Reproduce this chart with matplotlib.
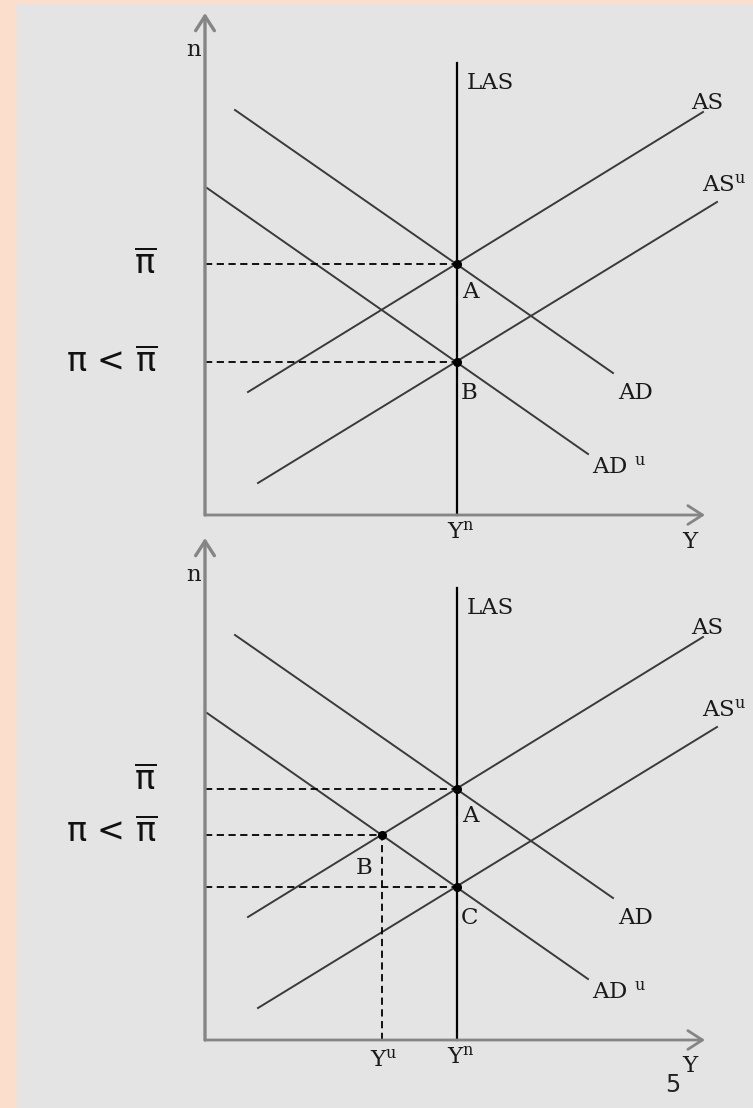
"""AS-AD diagram: lower inflation expectations, two panels."""

import numpy as np
import matplotlib.pyplot as plt
from matplotlib.patches import Rectangle

plt.rcParams['mathtext.fontset'] = 'dejavusans'

# =============================================================================
# Data (Y and pi in arbitrary units, axes start at 0)
Y_n = 50.4          # natural output
pi_bar = 50.3       # expected inflation
pi_low = 30.6       # lower inflation

curve_names = ["AS", "AS$^{\\rm u}$", "AD", "AD $^{\\rm u}$"]
curve_Y = [[8.6, 99.6], [10.6, 102.4], [6.0, 81.6], [0.4, 76.6]]
curve_pi = [[24.6, 80.6], [6.4, 62.6], [81.0, 28.4], [65.4, 12.2]]
LAS_top = 90.4


def line_at(i, y):
    Ys, ps = curve_Y[i], curve_pi[i]
    return ps[0] + (ps[1] - ps[0]) * (y - Ys[0]) / (Ys[1] - Ys[0])


# B in lower panel: AS meets AD^u
sA = (curve_pi[0][1] - curve_pi[0][0]) / (curve_Y[0][1] - curve_Y[0][0])
sD = (curve_pi[3][1] - curve_pi[3][0]) / (curve_Y[3][1] - curve_Y[3][0])
Y_u = (curve_pi[3][0] - sD * curve_Y[3][0] - curve_pi[0][0] + sA * curve_Y[0][0]) / (sA - sD)
pi_u = line_at(0, Y_u)

# =============================================================================
W, H = 753, 1108
fig = plt.figure(figsize=(W / 100, H / 100), dpi=100, facecolor="#fbdfcc")
fig.patches.append(Rectangle((16 / W, 0), 1 - 16 / W, 1 - 3 / H,
                             transform=fig.transFigure, facecolor="#e4e4e4",
                             edgecolor="none", zorder=-5))

# pixel layout: y axis at x=205px, 5 px per unit
ax_top = fig.add_axes([0, (H - 525) / H, 1, 525 / H])
ax_bot = fig.add_axes([0, 0, 1, 583 / H])
ax_top.set_xlim(-41, 109.6)
ax_top.set_ylim(-2, 103)
ax_bot.set_xlim(-41, 109.6)
ax_bot.set_ylim(-13.6, 103)

serif = dict(family="DejaVu Serif", color="#1a1a1a", fontsize=16.5,
             math_fontfamily="dejavuserif")
sans = dict(family="DejaVu Sans", color="#111111", fontsize=24)
curve_col = "#3a3a3a"
axis_col = "#858585"

label_pos = [(97.2, 82.4, "left"), (99.4, 66.0, "left"),
             (86.2, 24.4, "center"), (77.4, 9.6, "left")]


def draw_panel(ax, pts):
    ax.axis("off")
    ax.patch.set_alpha(0)
    # axes with arrows
    ax.annotate("", xy=(0, 100.4), xytext=(0, 0), annotation_clip=False,
                arrowprops=dict(arrowstyle="->,head_length=0.7,head_width=0.45",
                                color=axis_col, lw=2.4, shrinkA=0, shrinkB=0,
                                mutation_scale=15))
    ax.annotate("", xy=(100, 0), xytext=(0, 0), annotation_clip=False,
                arrowprops=dict(arrowstyle="->,head_length=0.7,head_width=0.45",
                                color=axis_col, lw=2.0, shrinkA=0, shrinkB=0,
                                mutation_scale=15))
    ax.text(-0.8, 93, "n", ha="right", va="center", **serif)
    ax.text(97, -5.3, "Y", ha="center", va="center", **serif)

    # LAS
    ax.plot([Y_n, Y_n], [0, LAS_top], color="black", lw=1.6)
    ax.text(52.4, 86.4, "LAS", ha="left", va="center", **serif)

    for i, name in enumerate(curve_names):
        ax.plot(curve_Y[i], curve_pi[i], color=curve_col, lw=1.4)
        x, y, ha = label_pos[i]
        ax.text(x, y, name, ha=ha, va="center", **serif)

    # dashed guides and points
    for (px, py, lab, dx, dy) in pts:
        ax.plot([0, px], [py, py], color="black", lw=1.3, ls=(0, (4, 2.5)))
        ax.plot(px, py, "o", color="black", ms=5.5, zorder=5)
        ax.text(px + dx, py + dy, lab, ha="center", va="center", **serif)

    ax.text(Y_n + 0.8, -3.4, "Y$^{\\rm n}$", ha="center", va="center", **serif)


draw_panel(ax_top, [(Y_n, pi_bar, "A", 2.6, -5.8), (Y_n, pi_low, "B", 2.4, -6.2)])
ax_top.text(-12, pi_bar, r"$\overline{\mathrm{\pi}}$", ha="center", va="center", **sans)
ax_top.text(-18.6, pi_low, r"$\mathrm{\pi}$ < $\overline{\mathrm{\pi}}$", ha="center",
            va="center", **sans)

draw_panel(ax_bot, [(Y_n, pi_bar, "A", 2.6, -5.6), (Y_u, pi_u, "B", -3.4, -6.6),
                    (Y_n, pi_low, "C", 2.4, -6.2)])
ax_bot.plot([Y_u, Y_u], [0, pi_u], color="black", lw=1.3, ls=(0, (4, 2.5)))
ax_bot.text(Y_u + 0.4, -4, "Y$^{\\rm u}$", ha="center", va="center", **serif)
ax_bot.text(-12, pi_bar + 1.8, r"$\overline{\mathrm{\pi}}$", ha="center", va="center", **sans)
ax_bot.text(-18.6, pi_u + 0.4, r"$\mathrm{\pi}$ < $\overline{\mathrm{\pi}}$", ha="center",
            va="center", **sans)
ax_bot.text(93.6, -9, "5", ha="center", va="center", family="DejaVu Sans",
            fontsize=17, color="#222222")

fig.savefig("out.png", dpi=100, facecolor=fig.get_facecolor())
